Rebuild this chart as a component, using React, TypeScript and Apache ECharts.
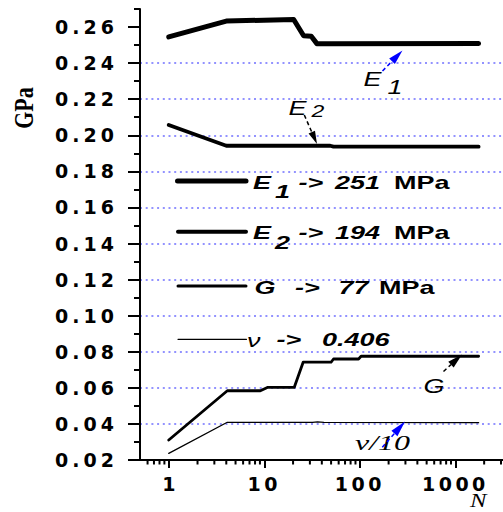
import React, { useEffect, useRef } from 'react';
import * as echarts from 'echarts';

// ---- data ----
const E1_N = [1, 4, 20.3, 25.8, 31, 35.5, 50, 1750];
const E1_GPa = [0.2545, 0.2633, 0.2642, 0.2552, 0.2549, 0.2508, 0.2508, 0.2509];

const E2_N = [1, 4, 49, 53, 1750];
const E2_GPa = [0.2057, 0.1942, 0.1942, 0.1937, 0.1937];

const G_N = [1, 4.1, 9.1, 10.9, 20.6, 25.5, 50, 53, 97, 103, 1750];
const G_GPa = [0.0311, 0.0584, 0.0584, 0.0603, 0.0603, 0.0742, 0.0742, 0.076, 0.076, 0.0775, 0.0775];

const NU_N = [1, 4.1, 32, 36, 42, 1750];
const NU_10 = [0.0237, 0.0409, 0.0409, 0.0411, 0.0409, 0.0407];

const Y_MAJOR_TICKS = [0.02, 0.04, 0.06, 0.08, 0.1, 0.12, 0.14, 0.16, 0.18, 0.2, 0.22, 0.24, 0.26];
const X_MINOR_TICKS = [0.6, 0.7, 0.8, 0.9, 2, 3, 4, 5, 6, 7, 8, 9, 20, 30, 40, 50, 60, 70, 80, 90,
  200, 300, 400, 500, 600, 700, 800, 900, 2000, 3000];

const X_MIN = 0.5;
const X_MAX = 3150;
const Y_MIN = 0.02;
const Y_MAX = 0.27;

const pairs = (xs: number[], ys: number[]) => xs.map((x, i) => [x, ys[i]]);

const SANS = '"Liberation Sans", Arial, sans-serif';
const SERIF = '"Liberation Serif", "Times New Roman", serif';
const NUMFONT = '"DejaVu Sans", sans-serif';

function arrow(x1: number, y1: number, x2: number, y2: number, color: string, headLen: number, headW: number) {
  const dx = x2 - x1, dy = y2 - y1;
  const L = Math.hypot(dx, dy);
  const ux = dx / L, uy = dy / L;
  const bx = x2 - ux * headLen, by = y2 - uy * headLen;
  const px = -uy, py = ux;
  return [
    { type: 'line', z: 100, silent: true, shape: { x1, y1, x2: bx, y2: by },
      style: { stroke: color, lineWidth: 1.5, lineDash: [4, 3] } },
    { type: 'polygon', z: 100, silent: true,
      shape: { points: [[x2, y2], [bx + px * headW / 2, by + py * headW / 2], [bx - px * headW / 2, by - py * headW / 2]] },
      style: { fill: color } },
  ];
}

function txt(text: string, x: number, y: number, size: number, opts: any = {}) {
  return {
    type: 'text', z: 100, silent: true, x, y,
    scaleX: opts.sx ?? 1.5, scaleY: opts.sy ?? 1, rotation: opts.rot ?? 0,
    style: {
      text,
      fontSize: size,
      fontFamily: opts.family ?? SANS,
      fontWeight: opts.weight ?? 'bold',
      fontStyle: opts.style ?? 'italic',
      fill: '#000',
      align: opts.align ?? 'left',
      verticalAlign: 'middle',
    },
  };
}

function legLine(x1: number, x2: number, y: number, w: number) {
  return { type: 'line', z: 100, silent: true, shape: { x1, y1: y, x2, y2: y },
    style: { stroke: '#000', lineWidth: w, lineCap: 'round' } };
}

export default function App() {
  const ref = useRef<HTMLDivElement>(null);

  useEffect(() => {
    document.body.style.margin = '0';
    if (!ref.current) return;
    const chart = echarts.init(ref.current, null, { renderer: 'svg' });

    const lineSeries = (data: number[][], width: number) => ({
      type: 'line', data, symbol: 'none', silent: true, z: 3,
      lineStyle: { color: '#000', width, cap: 'round', join: 'round' },
    });

    const graphic: any[] = [
      // legend block
      legLine(177.5, 246, 181, 5),
      txt('E', 253, 182.3, 18),
      txt('1', 275, 191.8, 18),
      txt('->', 298.5, 182.3, 18),
      txt('251', 335, 182.3, 18),
      txt('MPa', 394, 182.3, 18, { style: 'normal' }),

      legLine(178, 246, 231.7, 4),
      txt('E', 253, 233, 18),
      txt('2', 275, 242.5, 18),
      txt('->', 298.5, 233, 18),
      txt('194', 335, 233, 18),
      txt('MPa', 394, 233, 18, { style: 'normal' }),

      legLine(178, 246, 286, 3),
      txt('G', 254.5, 287.3, 18),
      txt('->', 295, 287.3, 18),
      txt('77', 338.5, 287.3, 18),
      txt('MPa', 379, 287.3, 18, { style: 'normal' }),

      legLine(178, 246.5, 339.3, 1.2),
      txt('ν', 247, 340.5, 18, { weight: 'normal' }),
      txt('->', 276.5, 339.5, 18),
      txt('0.406', 322, 339.5, 18),

      // curve annotations
      txt('E', 363.5, 78.8, 20, { weight: 'normal', sx: 1.35 }),
      txt('1', 387.5, 86.5, 20, { weight: 'normal', sx: 1.35 }),
      ...arrow(382.5, 71, 402.5, 50.5, '#0000ff', 15, 8),

      txt('E', 288.5, 107.5, 20, { weight: 'normal', sx: 1.35 }),
      txt('2', 311.5, 111, 17, { weight: 'normal', sx: 1.35 }),
      ...arrow(304.3, 115, 317, 144, '#000000', 13, 7),

      txt('G', 423.5, 385.5, 20, { weight: 'normal', sx: 1.35 }),
      ...arrow(443.5, 371.5, 462, 354.5, '#000000', 15, 8),

      txt('ν/10', 355, 443.3, 20, { weight: 'normal', family: SERIF, sx: 1.6 }),
      ...arrow(382.3, 447.3, 405, 421.5, '#0000ff', 16, 8),

      // axis titles
      txt('GPa', 24, 108, 22, { weight: 'bold', style: 'normal', family: SERIF, sx: 1, sy: 1.2, rot: Math.PI / 2, align: 'center' }),
      txt('N', 478.3, 501, 19, { weight: 'normal', family: SERIF, sx: 1.3, align: 'center' }),
    ];

    chart.setOption({
      animation: false,
      tooltip: { show: false },
      grid: { left: 140, top: 9, width: 363, height: 451, containLabel: false },
      xAxis: {
        type: 'log', logBase: 10, min: X_MIN, max: X_MAX,
        axisLine: { show: true, lineStyle: { color: '#000', width: 2 } },
        axisTick: { show: true, inside: false, length: 8, lineStyle: { color: '#000', width: 2 } },
        axisLabel: {
          show: true, margin: 14, showMinLabel: false, showMaxLabel: false,
          formatter: (v: number) => String(Math.round(v)),
          color: '#000', fontFamily: NUMFONT, fontWeight: 'bold', fontSize: 19,
        },
        splitLine: { show: false },
      },
      yAxis: [
        {
          type: 'value', min: Y_MIN, max: Y_MAX, interval: 0.01, position: 'left',
          axisLine: { show: true, onZero: false, lineStyle: { color: '#000', width: 2 } },
          axisTick: { show: true, inside: false, length: 6, lineStyle: { color: '#000', width: 2 } },
          axisLabel: { show: false },
          splitLine: { show: false },
        },
        {
          type: 'value', min: Y_MIN, max: Y_MAX, interval: 0.02, position: 'left',
          axisLine: { show: false },
          axisTick: { show: true, inside: false, length: 12, customValues: Y_MAJOR_TICKS, lineStyle: { color: '#000', width: 2 } },
          axisLabel: {
            show: true, margin: 22, showMaxLabel: false,
            formatter: (v: number) => v.toFixed(2),
            color: '#000', fontFamily: NUMFONT, fontWeight: 'bold', fontSize: 19,
          },
          splitLine: {
            show: true, showMinLine: false, showMaxLine: false,
            lineStyle: { color: '#6f6fff', width: 1.6, type: [2, 3.7] },
          },
        },
      ],
      series: [
        lineSeries(pairs(E1_N, E1_GPa), 5),
        lineSeries(pairs(E2_N, E2_GPa), 3.8),
        lineSeries(pairs(G_N, G_GPa), 2.8),
        lineSeries(pairs(NU_N, NU_10), 1.3),
        {
          type: 'custom', xAxisIndex: 0, yAxisIndex: 0, silent: true, clip: false, z: 10,
          data: X_MINOR_TICKS.map((v) => [v, Y_MIN]),
          renderItem: (params: any, api: any) => {
            const p = api.coord([api.value(0), api.value(1)]);
            return {
              type: 'line',
              shape: { x1: p[0], y1: p[1], x2: p[0], y2: p[1] + 4.5 },
              style: { stroke: '#000', lineWidth: 2 },
            };
          },
        },
      ],
      graphic,
    });

    // widen the spaced-out tick labels of the original
    ref.current.querySelectorAll('text').forEach((t) => {
      const s = t.textContent || '';
      if (/^0\.\d\d$/.test(s)) t.setAttribute('letter-spacing', '4');
      else if (/^10+$/.test(s)) t.setAttribute('letter-spacing', '3.5');
    });

    return () => chart.dispose();
  }, []);

  return (
    <div
      ref={ref}
      style={{ position: 'absolute', left: 0, top: 0, width: 503, height: 512, background: '#fff' }}
    />
  );
}
